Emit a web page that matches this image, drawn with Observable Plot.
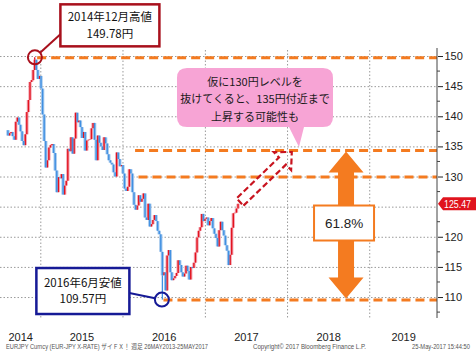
<!DOCTYPE html>
<html><head><meta charset="utf-8">
<script src="https://cdn.jsdelivr.net/npm/d3@7"></script>
<script src="https://cdn.jsdelivr.net/npm/@observablehq/plot@0.6"></script>
<style>html,body{margin:0;padding:0;background:#fff;}#chart{width:476px;height:355px;overflow:hidden;}</style>
</head><body><div id="chart"></div>
<script>
// ---- data ----
const weekStart = "2014-08-01"; // weekly candles (Fridays)
const closes = [
  // 2014 Aug - Dec
  137.7, 136.8, 137.2, 137.4, 136.7,
  136.1, 139.1, 139.8, 138.6,
  137.5, 135.9, 135.2, 137.0, 140.7,
  142.7, 145.7, 146.0, 147.7,
  149.4, 147.7, 146.2, 146.7,
  // 2015
  144.6, 140.3, 135.9, 131.5, 132.7,
  134.8, 135.2, 135.4, 133.9,
  131.0, 127.4, 129.9, 129.7,
  130.4, 127.0, 128.5, 129.3,
  134.6, 134.2, 136.5, 133.8, 136.3,
  140.6, 139.0, 139.3, 138.2,
  136.4, 137.4, 134.3, 136.0, 136.1,
  136.2, 138.0, 138.9, 136.1,
  132.7, 136.8, 135.6, 135.0,
  134.4, 136.5, 135.5, 133.7, 132.7,
  132.3, 132.0, 130.7, 130.0,
  134.0, 132.9, 131.7, 131.9,
  // 2016
  130.5, 128.0, 127.6, 128.3, 131.2,
  130.5, 127.4, 125.3, 124.5,
  125.2, 126.9, 125.8, 126.3,
  127.2, 123.2, 122.8, 125.5, 121.7,
  122.1, 122.8, 123.6, 122.6,
  121.0, 120.4, 117.5, 113.6,
  114.1, 111.1, 116.9, 117.8, 114.1,
  112.8, 113.1, 113.5, 114.0,
  116.1, 115.3, 114.1, 113.4, 113.9,
  115.2, 114.3, 112.9, 115.0,
  114.8, 115.7, 117.4, 119.9,
  121.0, 121.6, 123.8, 122.6, 123.0,
  // 2017 Jan - May
  123.2, 121.9, 122.6, 123.1,
  121.4, 120.5, 119.8, 118.4,
  121.1, 122.5, 121.1, 120.2, 118.6,
  117.7, 115.3, 117.0, 121.5,
  123.9, 124.0, 124.7, 125.47
];
const xDomain = ["2014-07-06", "2019-10-29"];
const yDomain = [106.52, 151.0];
const yTickLabels = [110, 115, 120, 130, 135, 140, 145, 150];
const yGrid = [110, 115, 120, 125, 130, 135, 140, 145, 150];
const yMinor = [107.5, 112.5, 117.5, 122.5, 127.5, 132.5, 137.5, 142.5, 147.5];
const yearStarts = ["2015-01-01", "2016-01-01", "2017-01-01", "2018-01-01", "2019-01-01"];
const yearLabels = [2014, 2015, 2016, 2017, 2018, 2019];
const levelValues = [149.78, 134.42, 130, 109.57];
const levelStarts = ["2014-12-18", "2016-02-26", "2016-03-12", "2016-07-01"];
const extremeDates = ["2014-12-08", "2016-06-24"];
const extremeValues = [149.78, 109.57];
const extremeTexts = [["2014年12月高値", "149.78円"], ["2016年6月安値", "109.57円"]];
const lastPrice = 125.47;
const bubbleLines = ["仮に130円レベルを", "抜けてくると、135円付近まで", "上昇する可能性も"];
const bubbleTip = {date: "2018-02-23", value: 134.9};
const retraceLabel = "61.8%";
const retraceDate = "2018-09-20";
const retraceFrom = 134.42, retraceTo = 109.57;
const projTail = {date: "2017-06-06", value: 125.77};
const projTip = {date: "2018-01-22", value: 134.07};
const footerTexts = [
  "EURJPY Curncy (EUR-JPY X-RATE) ザイＦＸ！ 週足 26MAY2013-25MAY2017",
  "Copyright© 2017 Bloomberg Finance L.P.",
  "25-May-2017 15:44:50"
];

// ---- derived tables ----
const parse = d3.utcParse("%Y-%m-%d");
const t0 = parse(weekStart);
const candles = closes.map((c, i) => ({date: d3.utcDay.offset(t0, 7 * i), open: i ? closes[i - 1] : c, close: c}));
const up = candles.filter(d => d.close >= d.open);
const down = candles.filter(d => d.close < d.open);
const xd0 = parse(xDomain[0]), xd1 = parse(xDomain[1]);
const levels = levelValues.map((v, i) => ({value: v, start: parse(levelStarts[i]), end: xd1}));
const extremes = extremeDates.map((d, i) => ({date: parse(d), value: extremeValues[i], text: extremeTexts[i]}));
const wicks = extremes.map(e => {
  const c = d3.least(candles, d => Math.abs(d.date - e.date));
  const top = e.value > Math.max(c.open, c.close);
  return {date: c.date, y1: top ? Math.max(c.open, c.close) : Math.min(c.open, c.close), y2: e.value, upCandle: c.close >= c.open};
});
const yearLabelDates = yearLabels.map(y => {
  const a = Math.max(Date.UTC(y, 0, 1), +xd0), b = Math.min(Date.UTC(y + 1, 0, 1), +xd1);
  return new Date((a + b) / 2);
});

const RED = "#e3121d", RED_L = "#f3a9b6", BLUE = "#3f8fe2", BLUE_L = "#a9cbee";
const ORANGE = "#f47b20";
const JP = "'Noto Sans CJK JP', sans-serif";
const NARROW = "'Liberation Sans Narrow', 'Liberation Sans', sans-serif";

function annotations(index, scales, values, dims) {
  const X = typeof scales.x === "function" ? scales.x : scales.scales.x.apply;
  const Y = typeof scales.y === "function" ? scales.y : scales.scales.y.apply;
  const g = d3.create("svg:g").attr("text-anchor", "start");
  const xR = dims.width - dims.marginRight, yB = dims.height - dims.marginBottom;

  // right axis line + minor ticks
  g.append("line").attr("x1", xR).attr("x2", xR).attr("y1", dims.marginTop - 2).attr("y2", yB).attr("stroke", "#444");
  for (const v of yMinor) g.append("line").attr("x1", xR).attr("x2", xR + 3).attr("y1", Y(v)).attr("y2", Y(v)).attr("stroke", "#444");

  // red dashed projection arrow
  {
    const tx = X(parse(projTail.date)), ty = Y(projTail.value);
    const px = X(parse(projTip.date)), py = Y(projTip.value);
    const L = Math.hypot(px - tx, py - ty), ux = (px - tx) / L, uy = (py - ty) / L;
    const nx = -uy, ny = ux, sw = 5, hw = 12.5, hl = 13;
    const bx = px - ux * hl, by = py - uy * hl;
    const pts = [[tx + nx * sw, ty + ny * sw], [bx + nx * sw, by + ny * sw], [bx + nx * hw, by + ny * hw], [px, py],
      [bx - nx * hw, by - ny * hw], [bx - nx * sw, by - ny * sw], [tx - nx * sw, ty - ny * sw]];
    g.append("path").attr("d", "M" + pts.map(p => p.join(",")).join("L") + "Z")
      .attr("fill", "none").attr("stroke", "#c8141f").attr("stroke-width", 2.2).attr("stroke-dasharray", "6,3").attr("stroke-linejoin", "miter");
  }

  // orange double arrow with 61.8% box
  {
    const cx = X(parse(retraceDate)), yt = Y(retraceFrom) + 1.5, yb = Y(retraceTo) - 1;
    const hw = 17.5, sw = 8, hh = 21;
    const p = [[cx, yt], [cx + hw, yt + hh], [cx + sw, yt + hh], [cx + sw, yb - hh], [cx + hw, yb - hh], [cx, yb],
      [cx - hw, yb - hh], [cx - sw, yb - hh], [cx - sw, yt + hh], [cx - hw, yt + hh]];
    g.append("path").attr("d", "M" + p.map(q => q.join(",")).join("L") + "Z").attr("fill", ORANGE);
    const my = (yt + yb) / 2 - 2;
    g.append("rect").attr("x", cx - 32).attr("y", my - 17.5).attr("width", 60).attr("height", 35)
      .attr("fill", "#fff").attr("stroke", ORANGE).attr("stroke-width", 2);
    g.append("text").attr("x", cx - 2).attr("y", my).attr("dy", "0.36em").attr("text-anchor", "middle")
      .attr("font-family", "'Liberation Sans', sans-serif").attr("font-size", 13.5).attr("fill", "#222").text(retraceLabel);
  }

  // circles + callout boxes
  const boxStyles = [
    {color: "#a8101c", dx: 25.5, dy: -53, w: 99, h: 42, cy: 30},
    {color: "#161a96", dx: -125.5, dy: -31.6, w: 93, h: 46, cy: 25}
  ];
  extremes.forEach((e, i) => {
    const s = boxStyles[i];
    const ax = X(e.date), ay = Y(e.value), r = 7;
    const bx = ax + s.dx, by = ay + s.dy;
    const ex = i === 0 ? bx : bx + s.w, ey = by + s.cy;
    const vx = ex - ax, vy = ey - ay, vl = Math.hypot(vx, vy);
    g.append("line").attr("x1", ex).attr("y1", ey).attr("x2", ax + vx / vl * r).attr("y2", ay + vy / vl * r)
      .attr("stroke", s.color).attr("stroke-width", 2);
    g.append("circle").attr("cx", ax).attr("cy", ay).attr("r", r).attr("fill", "none").attr("stroke", s.color).attr("stroke-width", 2);
    g.append("rect").attr("x", bx).attr("y", by).attr("width", s.w).attr("height", s.h)
      .attr("fill", "#fff").attr("stroke", s.color).attr("stroke-width", 2.5);
    e.text.forEach((t, j) => {
      g.append("text").attr("x", bx + s.w / 2).attr("y", by + s.h / 2 + (j - 0.5) * 16.5).attr("dy", "0.36em")
        .attr("text-anchor", "middle").attr("font-family", JP).attr("font-size", 11.5).attr("fill", "#111").text(t);
    });
  });

  // pink speech bubble
  {
    const tx = X(parse(bubbleTip.date)), ty = Y(bubbleTip.value);
    const x0 = tx - 122, x1 = tx + 34, y0 = ty - 79, y1 = ty - 20, r = 10;
    const d = `M${x0 + r},${y0}H${x1 - r}Q${x1},${y0} ${x1},${y0 + r}V${y1 - r}Q${x1},${y1} ${x1 - r},${y1}` +
      `H${tx + 5}L${tx},${ty}L${tx - 10},${y1}H${x0 + r}Q${x0},${y1} ${x0},${y1 - r}V${y0 + r}Q${x0},${y0} ${x0 + r},${y0}Z`;
    g.append("path").attr("d", d).attr("fill", "#f7a4d5");
    bubbleLines.forEach((t, j) => {
      g.append("text").attr("x", (x0 + x1) / 2).attr("y", y0 + 14 + j * 17.3).attr("dy", "0.36em")
        .attr("text-anchor", "middle").attr("font-family", JP).attr("font-size", 11).attr("fill", "#1a1a1a").text(t);
    });
  }

  // last price tag
  {
    const y = Y(lastPrice);
    g.append("path").attr("d", `M${xR + 1},${y}L${xR + 6},${y - 6.5}H${dims.width}V${y + 6.5}H${xR + 6}Z`).attr("fill", "#e0141e");
    g.append("text").attr("x", xR + 7).attr("y", y).attr("dy", "0.36em").attr("text-anchor", "start")
      .attr("textLength", 27).attr("lengthAdjust", "spacingAndGlyphs").attr("font-family", NARROW)
      .attr("font-size", 10.5).attr("fill", "#fff").text(String(lastPrice));
  }

  // footer
  const fpos = [[6, 202], [253, 113], [412, 58]];
  footerTexts.forEach((t, i) => {
    g.append("text").attr("x", fpos[i][0]).attr("y", 348.5).attr("text-anchor", "start")
      .attr("textLength", fpos[i][1]).attr("lengthAdjust", "spacingAndGlyphs")
      .attr("font-family", "'Liberation Sans', 'Noto Sans CJK JP', sans-serif").attr("font-size", 6.5).attr("fill", "#555").text(t);
  });
  return g.node();
}

const chart = Plot.plot({
  width: 476, height: 355,
  marginTop: 50, marginRight: 39, marginBottom: 37, marginLeft: 0,
  style: {background: "#fff", color: "#222", fontFamily: NARROW, fontSize: "11px", overflow: "visible"},
  x: {type: "utc", domain: [xd0, xd1], label: null, ticks: yearLabelDates, tickFormat: d3.utcFormat("%Y"), tickSize: 0, tickPadding: 15},
  y: {domain: yDomain, axis: "right", label: null, ticks: yTickLabels, tickSize: 5, tickPadding: 2, tickFormat: d => String(d)},
  marks: [
    Plot.ruleY(yGrid, {stroke: "#9a9a9a", strokeDasharray: "1.5,2"}),
    Plot.ruleX(yearStarts.map(parse), {stroke: "#9a9a9a", strokeDasharray: "1.5,2"}),
    Plot.ruleX(up, {x: "date", y1: "open", y2: "close", stroke: RED_L, strokeWidth: 3.4}),
    Plot.ruleX(down, {x: "date", y1: "open", y2: "close", stroke: BLUE_L, strokeWidth: 3.4}),
    Plot.ruleX(wicks, {x: "date", y1: "y1", y2: "y2", stroke: d => d.upCandle ? RED : BLUE, strokeWidth: 1.3}),
    Plot.ruleX(up, {x: "date", y1: "open", y2: "close", stroke: RED, strokeWidth: 1.4}),
    Plot.ruleX(down, {x: "date", y1: "open", y2: "close", stroke: BLUE, strokeWidth: 1.4}),
    Plot.ruleY(levels, {y: "value", x1: "start", x2: "end", stroke: ORANGE, strokeWidth: 3, strokeDasharray: "9,5"}),
    annotations
  ]
});
document.getElementById("chart").append(chart);
</script>
</body></html>
